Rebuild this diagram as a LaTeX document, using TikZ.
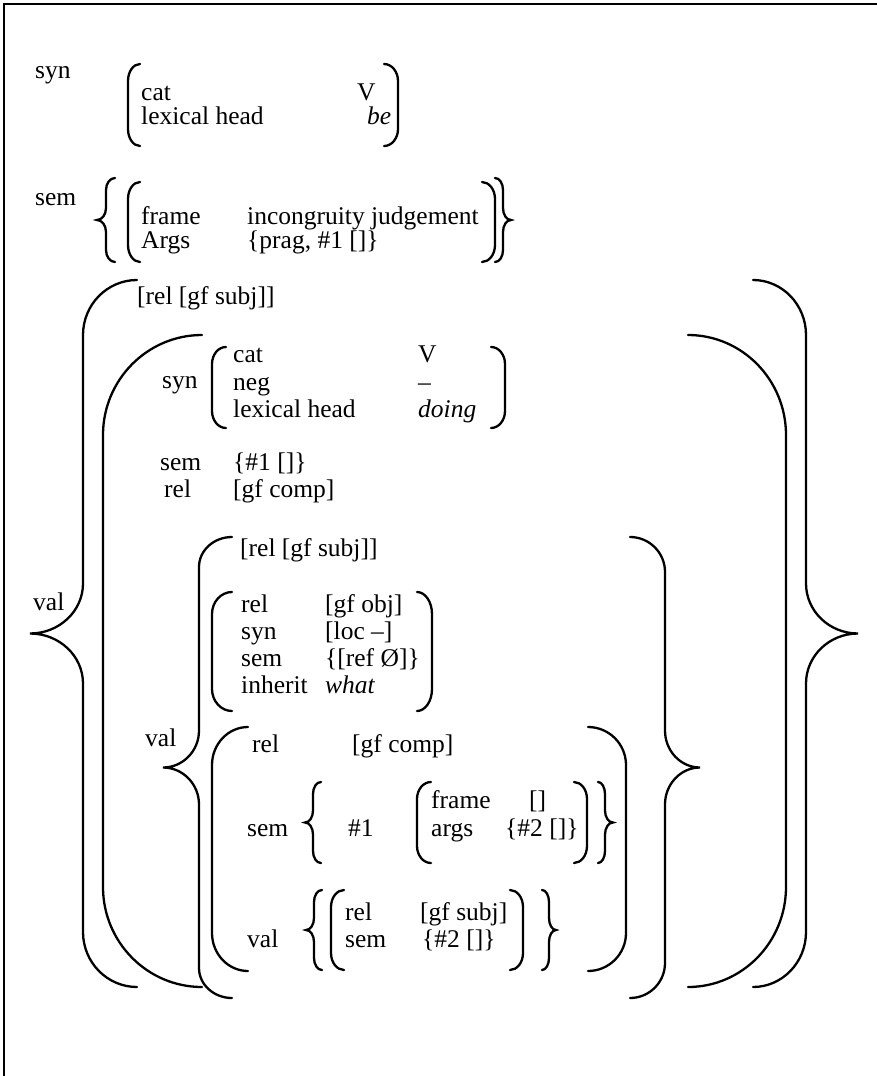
\documentclass[tikz,border=0pt]{standalone}
\usepackage{fontspec}
\setmainfont{Liberation Serif}
% round bracket: xe, xv, ytop, ybot, r
\newcommand\RBr[5]{\draw[brk] (#1,#3) .. controls ({#1-0.552*(#1-#2)},#3) and (#2,{#3+0.448*#5}) .. (#2,{#3+#5}) -- (#2,{#4-#5}) .. controls (#2,{#4-0.448*#5}) and ({#1-0.552*(#1-#2)},#4) .. (#1,#4);}
% curly brace: xe, xv, xtip, ytop, ybot, r, r2
\newcommand\CBr[7]{\draw[brk] (#1,#4) .. controls ({#1-0.552*(#1-#2)},#4) and (#2,{#4+0.448*#6}) .. (#2,{#4+#6}) -- (#2,{(#4+#5)/2-#7}) .. controls (#2,{(#4+#5)/2-0.448*#7}) and ({#3+0.552*(#2-#3)},{(#4+#5)/2}) .. (#3,{(#4+#5)/2}) .. controls ({#3+0.552*(#2-#3)},{(#4+#5)/2}) and (#2,{(#4+#5)/2+0.448*#7}) .. (#2,{(#4+#5)/2+#7}) -- (#2,{#5-#6}) .. controls (#2,{#5-0.448*#6}) and ({#1-0.552*(#1-#2)},#5) .. (#1,#5);}
\begin{document}
\begin{tikzpicture}[x=1pt,y=-1pt,
  brk/.style={line width=2.3pt, line cap=round},
  lbl/.style={anchor=base west, inner sep=0pt, font=\fontsize{25.5}{30}\selectfont}]
\useasboundingbox (0,0) rectangle (877,1076);
\draw[line width=2.5pt] (4,1076) -- (4,4) -- (877,4);
% ---- section 1: syn
\node[lbl] (s1syn) at (35,78) {syn};
\RBr{140}{128}{64}{146}{17}
\node[lbl] (s1cat) at (141,100) {cat};
\node[lbl] (s1V) at (357,100) {V};
\node[lbl] (s1lh) at (141,124) {lexical head};
\node[lbl] (s1be) at (367,124) {\itshape be};
\RBr{384}{398}{64}{146}{17}
% ---- section 2: sem
\node[lbl] (s2sem) at (35,205) {sem};
\CBr{115}{106}{97}{178}{262}{12}{12}
\RBr{140}{128}{182}{262}{17}
\node[lbl] (s2fr) at (141,224) {frame};
\node[lbl] (s2ij) at (247,224) {incongruity judgement};
\node[lbl] (s2args) at (141,248) {Args};
\node[lbl] (s2pr) at (247,248) {\{prag, \#1 []\}};
\RBr{482}{495}{182}{262}{17}
\CBr{495}{503}{511}{178}{262}{12}{12}
% ---- section 3: outer val
\node[lbl] (v1) at (33,610) {val};
\CBr{137}{83}{30}{280}{987}{55}{50}
\CBr{753}{806}{858}{280}{987}{55}{50}
\node[lbl] (v1subj) at (137,304) {[rel [gf subj]]};
\RBr{202}{103}{335}{987}{100}
\RBr{688}{786}{335}{987}{100}
% inner syn
\node[lbl] (isyn) at (162,388) {syn};
\RBr{226}{212}{347}{428}{17}
\node[lbl] (icat) at (233,362) {cat};
\node[lbl] (iV) at (418,362) {V};
\node[lbl] (ineg) at (233,390) {neg};
\node[lbl] (idash) at (418,390) {–};
\node[lbl] (ilh) at (233,417) {lexical head};
\node[lbl] (idoing) at (418,417) {\itshape doing};
\RBr{491}{505}{347}{428}{17}
\node[lbl] (isem) at (160,470) {sem};
\node[lbl] (isemv) at (233,470) {\{\#1 []\}};
\node[lbl] (irel) at (164,497) {rel};
\node[lbl] (irelv) at (233,497) {[gf comp]};
% inner val
\node[lbl] (v2) at (145,746) {val};
\CBr{232}{199}{163}{537}{998}{30}{37}
\CBr{630}{665}{700}{537}{998}{35}{37}
\node[lbl] (v2subj) at (240,556) {[rel [gf subj]]};
\RBr{232}{212}{592}{711}{22}
\node[lbl] (orel) at (241,612) {rel};
\node[lbl] (orelv) at (325,612) {[gf obj]};
\node[lbl] (osyn) at (241,639) {syn};
\node[lbl] (osynv) at (325,639) {[loc –]};
\node[lbl] (osem) at (241,666) {sem};
\node[lbl] (osemv) at (325,666) {\{[ref Ø]\}};
\node[lbl] (oinh) at (241,693) {inherit};
\node[lbl] (oinhv) at (325,693) {\itshape what};
\RBr{417}{432}{592}{711}{22}
% comp box
\RBr{248}{212}{727}{971}{38}
\RBr{588}{626}{727}{971}{38}
\node[lbl] (crel) at (252,752) {rel};
\node[lbl] (crelv) at (352,752) {[gf comp]};
\node[lbl] (csem) at (247,836) {sem};
\CBr{321}{313}{305}{782}{863}{12}{12}
\node[lbl] (c1) at (348,836) {\#1};
\RBr{431}{417}{782}{863}{17}
\node[lbl] (cfr) at (431,808) {frame};
\node[lbl] (cfrv) at (529,808) {[]};
\node[lbl] (cargs) at (431,836) {args};
\node[lbl] (cargsv) at (505,836) {\{\#2 []\}};
\RBr{574}{587}{782}{863}{17}
\CBr{598}{605}{613}{782}{863}{12}{12}
\node[lbl] (cval) at (247,947) {val};
\CBr{322}{314}{306}{890}{970}{12}{12}
\RBr{344}{331}{890}{970}{17}
\node[lbl] (cvrel) at (345,920) {rel};
\node[lbl] (cvrelv) at (420,920) {[gf subj]};
\node[lbl] (cvsem) at (345,947) {sem};
\node[lbl] (cvsemv) at (422,947) {\{\#2 []\}};
\RBr{510}{523}{890}{970}{17}
\CBr{542}{549}{556}{890}{970}{12}{12}
\end{tikzpicture}
\end{document}
